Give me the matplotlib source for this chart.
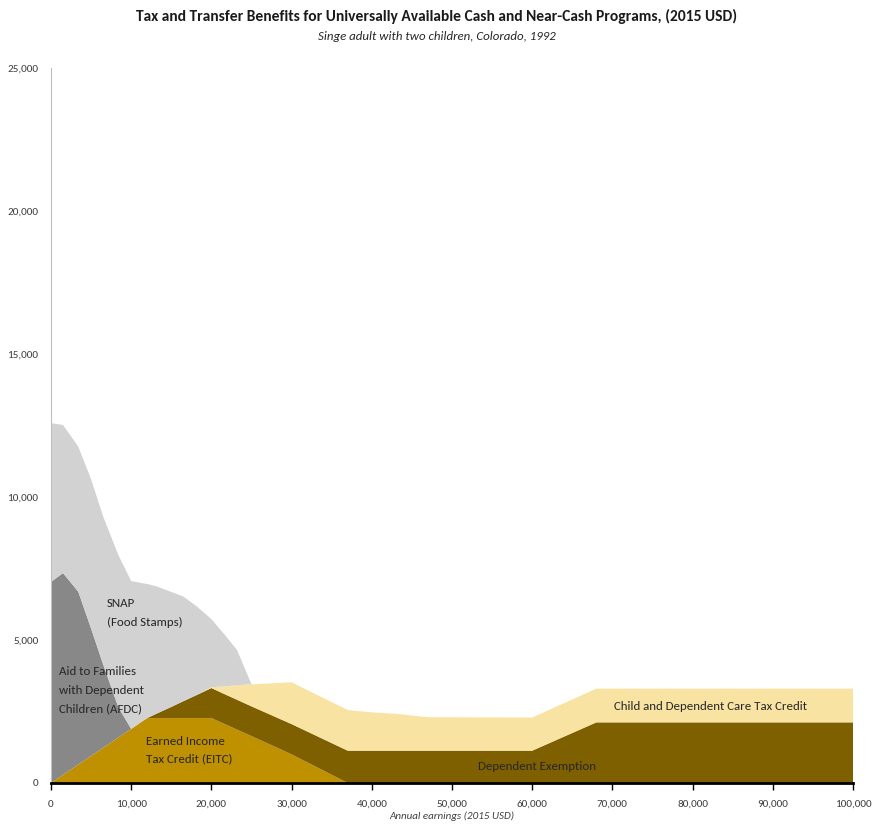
import matplotlib
matplotlib.use("Agg")
import matplotlib.pyplot as plt
from matplotlib import font_manager as fm
from matplotlib.ticker import FuncFormatter
import numpy as np

available = {f.name for f in fm.fontManager.ttflist}
font = 'DejaVu Sans'
for cand in ['Carlito', 'Liberation Sans Narrow', 'PT Sans Narrow', 'Roboto Condensed',
             'Open Sans Condensed', 'Encode Sans Condensed', 'Fira Sans Condensed', 'Lato']:
    if cand in available:
        font = cand
        break
plt.rcParams['font.family'] = [font, 'DejaVu Sans']

# Annual earnings grid (2015 USD)
earnings = [0, 1500, 3400, 5000, 6500, 8400, 10000, 11500, 12000, 13200, 15000,
            16500, 18200, 20000, 21700, 23200, 25000, 30000, 37000, 40000, 43000,
            47000, 60000, 68000, 100000]

eitc = [0, 285, 645, 945, 1230, 1590, 1890, 2180, 2270, 2270, 2270,
        2270, 2270, 2270, 2055, 1865, 1640, 1000, 0, 0, 0,
        0, 0, 0, 0]
dep_exemption = [0, 0, 0, 0, 0, 0, 0, 0, 0, 160, 390,
                 590, 810, 1050, 1045, 1045, 1040, 1060, 1130, 1130, 1130,
                 1130, 1130, 2120, 2120]
cdctc = [0, 0, 0, 0, 0, 0, 0, 0, 0, 0, 0,
         0, 0, 30, 280, 510, 770, 1460, 1420, 1340, 1290,
         1170, 1160, 1180, 1180]
afdc = [7030, 7055, 6045, 4455, 2920, 1060, 0, 0, 0, 0, 0,
        0, 0, 0, 0, 0, 0, 0, 0, 0, 0,
        0, 0, 0, 0]
snap = [5550, 5180, 5070, 5220, 5170, 5320, 5170, 4800, 4690, 4440, 4020,
        3660, 3090, 2380, 1790, 1230, 0, 0, 0, 0, 0,
        0, 0, 0, 0]

colors = ['#BF9000', '#7F6000', '#F8E3A3', '#888888', '#D2D2D2']

fig = plt.figure(figsize=(8.73, 8.27), dpi=100)
ax = fig.add_axes([51/873, 1-783/827, (853-51)/873, (783-68)/827])

ax.stackplot(earnings, eitc, dep_exemption, cdctc, afdc, snap,
             colors=colors, linewidth=0)

ax.set_xlim(0, 100000)
ax.set_ylim(0, 25000)
ax.set_xticks(np.arange(0, 100001, 10000))
ax.set_yticks(np.arange(0, 25001, 5000))
fmt = FuncFormatter(lambda v, p: f"{int(v):,}")
ax.xaxis.set_major_formatter(fmt)
ax.yaxis.set_major_formatter(fmt)

for s in ['top', 'right']:
    ax.spines[s].set_visible(False)
ax.spines['left'].set_color('#BFBFBF')
ax.spines['left'].set_linewidth(0.8)
ax.spines['bottom'].set_color('black')
ax.spines['bottom'].set_linewidth(2)
ax.spines['bottom'].set_zorder(5)

ax.tick_params(axis='x', direction='out', length=5, width=1, color='black',
               labelsize=8, labelcolor='#404040', pad=7)
ax.tick_params(axis='y', length=0, labelsize=8, labelcolor='#404040', pad=9)

ax.set_xlabel('Annual earnings (2015 USD)', fontsize=7.9, style='italic',
              color='#404040', labelpad=2)

fig.text(0.5, 1-16/827, 'Tax and Transfer Benefits for Universally Available Cash and Near-Cash Programs, (2015 USD)',
         ha='center', va='center', fontsize=11.2, fontweight='bold', color='#1a1a1a')
fig.text(0.5, 1-37/827, 'Singe adult with two children, Colorado, 1992',
         ha='center', va='center', fontsize=9.3, style='italic', color='#262626')

tc = '#262626'
ls = 1.85
fs = 9.3
ax.text(7000, 5940, 'SNAP\n(Food Stamps)', fontsize=fs, color=tc,
        ha='left', va='center', linespacing=ls)
ax.text(1000, 3250, 'Aid to Families\nwith Dependent\nChildren (AFDC)', fontsize=fs,
        color=tc, ha='left', va='center', linespacing=ls)
ax.text(11850, 1150, 'Earned Income\nTax Credit (EITC)', fontsize=fs, color=tc,
        ha='left', va='center', linespacing=1.7)
ax.text(60600, 560, 'Dependent Exemption', fontsize=fs, color=tc,
        ha='center', va='center')
ax.text(82300, 2660, 'Child and Dependent Care Tax Credit', fontsize=fs, color=tc,
        ha='center', va='center')

fig.savefig('out.png', dpi=100)
